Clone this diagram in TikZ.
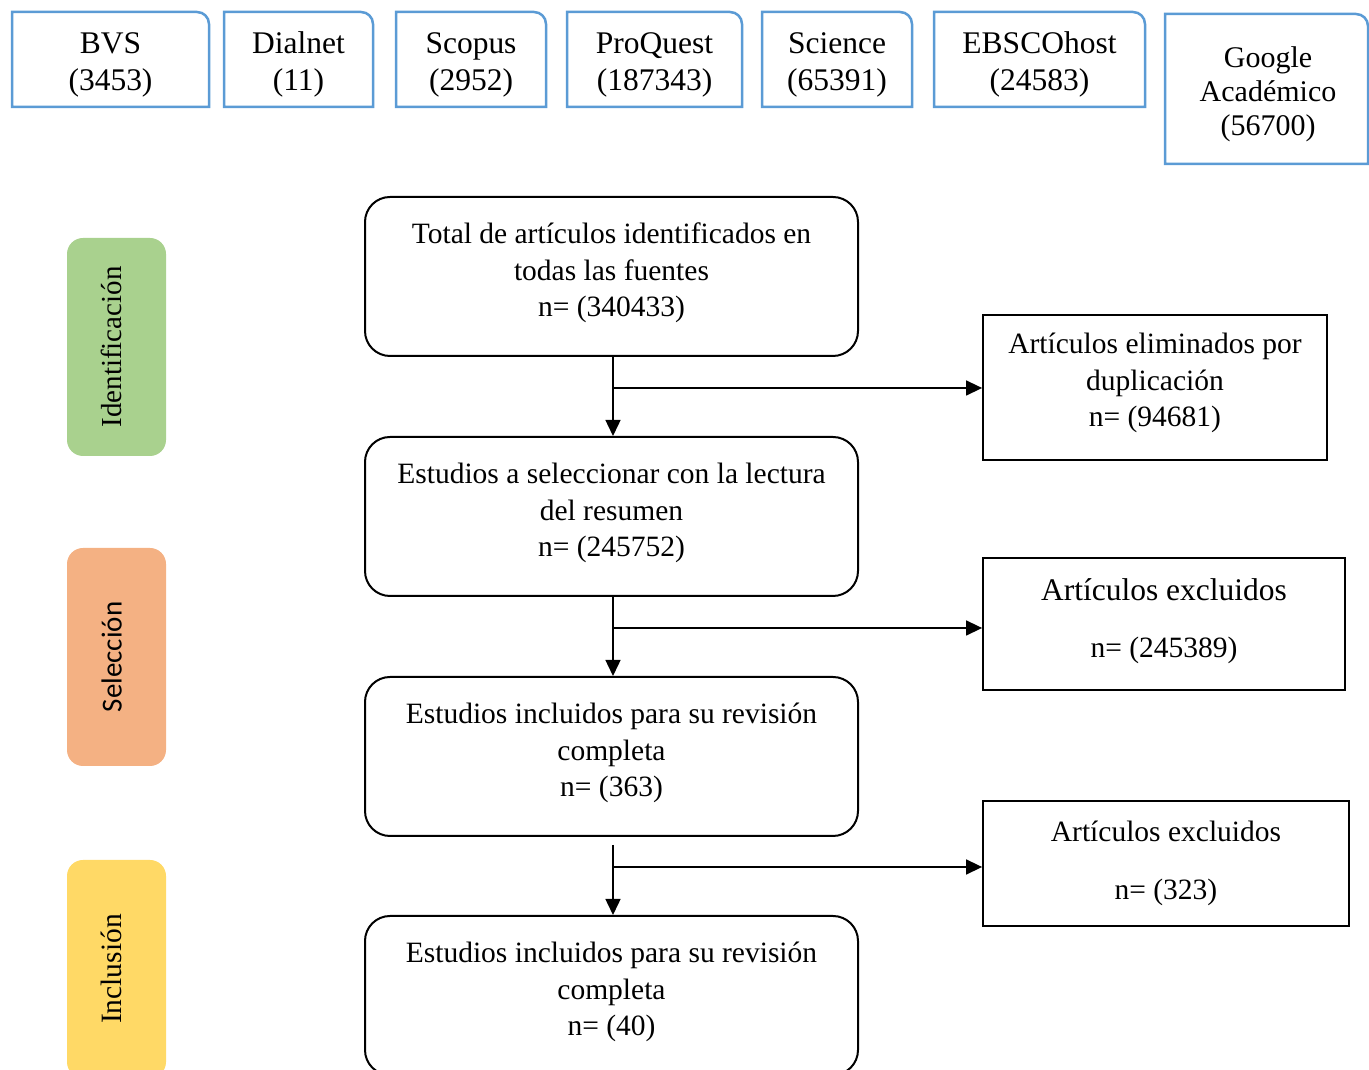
\documentclass[tikz,border=0pt]{standalone}
\usepackage{fontspec}
\setmainfont{Liberation Serif}
\newfontfamily\calibfont{Carlito}
\usetikzlibrary{arrows.meta}
\definecolor{srcblue}{HTML}{5B9BD5}
\definecolor{phgreen}{HTML}{A9D18E}
\definecolor{phorange}{HTML}{F4B183}
\definecolor{phyellow}{HTML}{FFD966}
\newcommand\srcbox[6]{%
  \draw[srcblue, line width=2.5pt] (#2,#4) -- (#2,#5) -- (#3-12,#5) arc[start angle=90,end angle=0,radius=12] -- (#3,#4) -- cycle;
  \node[srctext] (#1) at ({(#2+#3)/2},{(#4+#5)/2-5}) {#6};
}
\begin{document}
\begin{tikzpicture}[x=1pt,y=1pt,
  srctext/.style={font=\fontsize{31.5}{37}\selectfont, align=center, inner sep=0pt},
  mainbox/.style={draw, line width=2pt, rounded corners=25pt, minimum width=493pt, minimum height=159pt, align=center, font=\fontsize{29.5}{36.5}\selectfont, inner sep=0pt, text depth=13pt},
  sidebox/.style={draw, line width=1.8pt, align=center, font=\fontsize{29.5}{36.5}\selectfont, inner sep=0pt},
  phase/.style={rounded corners=16pt, minimum width=218pt, minimum height=99pt, inner sep=0pt, rotate=90, text depth=10pt, font=\fontsize{29}{32}\selectfont},
  conn/.style={line width=1.5pt, -{Triangle[length=16pt,width=15pt]}}
]
\useasboundingbox (0,0) rectangle (1369,1070);

% source boxes
\srcbox{bvs}{12}{209}{963}{1058}{BVS\\(3453)}
\srcbox{dialnet}{224}{373}{963}{1058}{Dialnet\\(11)}
\srcbox{scopus}{396}{546}{963}{1058}{Scopus\\(2952)}
\srcbox{proquest}{567}{742}{963}{1058}{ProQuest\\(187343)}
\srcbox{science}{762}{912}{963}{1058}{Science\\(65391)}
\srcbox{ebsco}{934}{1145}{963}{1058}{EBSCOhost\\(24583)}
\draw[srcblue, line width=2.5pt] (1165,906) -- (1165,1056) -- (1356,1056) arc[start angle=90,end angle=0,radius=12] -- (1368,906) -- cycle;
\node[srctext, font=\fontsize{30}{34}\selectfont] (google) at (1268,976) {Google\\Académico\\(56700)};

% phase labels
\node[phase, fill=phgreen] (ident) at (116.5,723) {Identificación};
\node[phase, fill=phorange, font=\calibfont\fontsize{29}{32}\selectfont] (selec) at (116.5,413) {Selección};
\node[phase, fill=phyellow, font=\fontsize{29.5}{32}\selectfont] (inclu) at (116.5,101) {Inclusión};

% main boxes
\node[mainbox] (b1) at (611.5,793.5) {Total de artículos identificados en\\todas las fuentes\\n= (340433)};
\node[mainbox] (b2) at (611.5,553.5) {Estudios a seleccionar con la lectura\\del resumen\\n= (245752)};
\node[mainbox] (b3) at (611.5,313.5) {Estudios incluidos para su revisión\\completa\\n= (363)};
\node[mainbox] (b4) at (611.5,74.5) {Estudios incluidos para su revisión\\completa\\n= (40)};

% side boxes
\node[sidebox, minimum width=344pt, minimum height=145pt, text depth=15pt] (elim) at (1155,682.5) {Artículos eliminados por\\duplicación\\n= (94681)};
\node[sidebox, minimum width=362pt, minimum height=132pt, text depth=12pt] (exc1) at (1164,446) {{\fontsize{31.5}{36.5}\selectfont Artículos excluidos}\\[21pt]n= (245389)};
\node[sidebox, minimum width=366pt, minimum height=125pt] (exc2) at (1166,206.5) {Artículos excluidos\\[21pt]n= (323)};

% connectors
\coordinate (v1) at (613,714);
\coordinate (h1) at (613,682);
\draw[conn] (v1) -- (v1 |- b2.north);
\draw[conn] (h1) -- (elim.west |- h1);

\coordinate (v2) at (613,474);
\coordinate (h2) at (613,442);
\draw[conn] (v2) -- (v2 |- b3.north);
\draw[conn] (h2) -- (exc1.west |- h2);

\coordinate (v3) at (613,225);
\coordinate (h3) at (613,203);
\draw[conn] (v3) -- (v3 |- b4.north);
\draw[conn] (h3) -- (exc2.west |- h3);
\end{tikzpicture}
\end{document}
